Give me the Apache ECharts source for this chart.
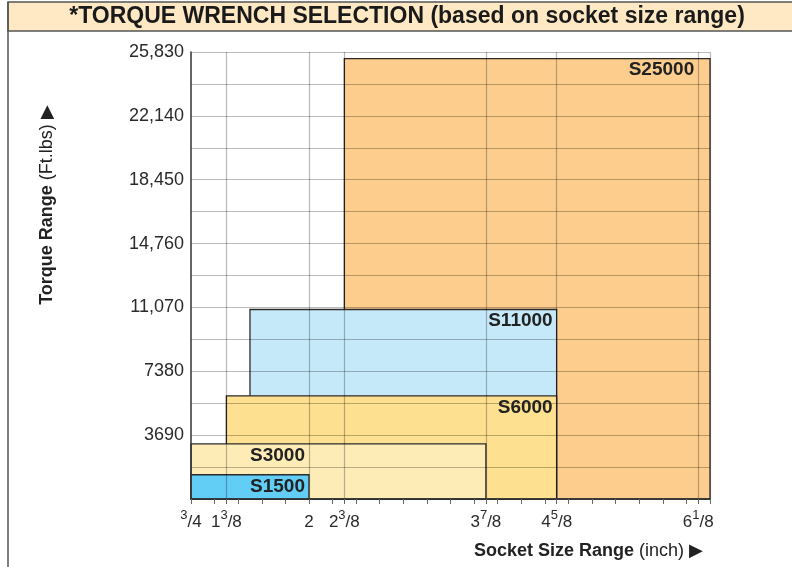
<!DOCTYPE html>
<html>
<head>
<meta charset="utf-8">
<title>Torque wrench selection</title>
<script src="https://cdn.jsdelivr.net/npm/echarts@6/dist/echarts.min.js"></script>
<style>
html, body { margin: 0; padding: 0; background: #fff; }
#chart { width: 792px; height: 567px; }
</style>
</head>
<body>
<div id="chart"></div>
<script>
// one box per wrench: socket range (inch) on x, torque (ft.lbs) from 0 up to the max on y
var models = ['S25000', 'S11000', 'S6000', 'S3000', 'S1500'];
var sizeFrom = [2.375, 1.375, 1.125, 0.75, 0.75];
var sizeTo = [6.25, 4.625, 4.625, 3.875, 2];
var torqueMax = [25450, 10950, 5960, 3180, 1400];
var labelAt = [6.125, 4.625, 4.625, 2, 2];

var yTicks = [3690, 7380, 11070, 14760, 18450, 22140, 25830];
var yTickLabels = ['3690', '7380', '11,070', '14,760', '18,450', '22,140', '25,830'];

// labelled socket sizes, written as whole + numerator/denominator
var xTicks = [0.75, 1.125, 2, 2.375, 3.875, 4.625, 6.125];
var xWhole = ['', '1', '2', '2', '3', '4', '6'];
var xNum = ['3', '3', '', '3', '7', '5', '1'];
var xDen = ['4', '8', '', '8', '8', '8', '8'];
var xSmallTicks = [0.75, 1, 1.125, 1.25, 1.5, 1.75, 2, 2.25, 2.375, 2.5, 2.75, 3, 3.25, 3.5,
  3.75, 3.875, 4, 4.25, 4.5, 4.625, 4.75, 5, 5.25, 5.5, 5.75, 6, 6.125, 6.25];
var xGridAt = [1.125, 2, 2.375, 3.875, 4.625, 6.125, 6.25];

var colors = ['#fdcd8e', '#c6e9f9', '#fee091', '#feecb6', '#62cdf5'];
var font = 'Liberation Sans, Arial, sans-serif';
var gridColor = 'rgba(0,0,0,0.27)';

var myChart = echarts.init(document.getElementById('chart'));

var boxes = models.map(function (m, i) { return [sizeFrom[i], sizeTo[i], torqueMax[i]]; });
var tags = models.map(function (m, i) { return [labelAt[i], torqueMax[i], m]; });

var option = {
  animation: false,
  backgroundColor: '#fff',
  grid: { left: 191, right: 82, top: 52, height: 447 },
  xAxis: [
    {
      type: 'value', min: 0.75, max: 6.25, position: 'bottom', z: 3,
      axisLine: { lineStyle: { color: '#333', width: 1.5 } },
      axisTick: { customValues: xSmallTicks, length: 5, lineStyle: { color: '#666' } },
      axisLabel: {
        customValues: xTicks, margin: 10, fontFamily: font,
        formatter: function (v) {
          var k = xTicks.indexOf(v);
          if (k < 0) return '';
          var s = xWhole[k] ? '{n|' + xWhole[k] + '}' : '';
          if (xNum[k]) s += '{s|' + xNum[k] + '}{n|/' + xDen[k] + '}';
          return s;
        },
        rich: {
          n: { fontSize: 17, color: '#2a2a2a', lineHeight: 22, verticalAlign: 'bottom', fontFamily: font },
          s: { fontSize: 13, color: '#2a2a2a', verticalAlign: 'top', fontFamily: font }
        }
      },
      splitLine: { show: false }
    },
    {
      type: 'value', min: 0.75, max: 6.25, position: 'top', z: 3,
      axisLine: { show: false },
      axisTick: { show: false, customValues: xGridAt },
      axisLabel: { show: false },
      splitLine: { show: true, lineStyle: { color: gridColor, width: 1.2 } }
    }
  ],
  yAxis: {
    type: 'value', min: 0, max: 25830, interval: 1845, z: 3,
    axisLine: { show: true, lineStyle: { color: '#333', width: 1.5 } },
    axisTick: { show: false },
    axisLabel: {
      fontSize: 18, color: '#2a2a2a', margin: 7, fontFamily: font,
      formatter: function (v) {
        var k = yTicks.indexOf(Math.round(v));
        return k < 0 ? '' : yTickLabels[k];
      }
    },
    splitLine: { lineStyle: { color: gridColor, width: 1.2 } }
  },
  series: [
    {
      type: 'custom', z: 2,
      encode: { x: [0, 1], y: 2 },
      data: boxes,
      renderItem: function (params, api) {
        var a = api.coord([api.value(0), api.value(2)]);
        var b = api.coord([api.value(1), 0]);
        return {
          type: 'rect',
          shape: { x: a[0], y: a[1], width: b[0] - a[0], height: b[1] - a[1] },
          style: { fill: colors[params.dataIndex], stroke: '#2b2b2b', lineWidth: 1.3 }
        };
      }
    },
    {
      type: 'custom', z: 5,
      encode: { x: 0, y: 1 },
      data: tags,
      renderItem: function (params, api) {
        var p = api.coord([api.value(0), api.value(1)]);
        return {
          type: 'text',
          x: p[0] - 4, y: p[1] + 2,
          style: {
            text: tags[params.dataIndex][2], align: 'right', verticalAlign: 'top',
            fontSize: 19, fontWeight: 'bold', fill: '#222', fontFamily: font
          }
        };
      }
    }
  ],
  graphic: [
    { type: 'rect', shape: { x: 8, y: 2, width: 800, height: 29 },
      style: { fill: '#fee9c4', stroke: '#555', lineWidth: 1.5 }, z: 10 },
    { type: 'line', shape: { x1: 8, y1: 2, x2: 8, y2: 570 },
      style: { stroke: '#555', lineWidth: 1.5 }, z: 10 },
    { type: 'text', x: 407, y: 17, z: 11,
      style: { text: '*TORQUE WRENCH SELECTION (based on socket size range)', align: 'center',
        verticalAlign: 'middle', fontSize: 23, fontWeight: 'bold', fill: '#1a1a1a', fontFamily: font } },
    { type: 'text', x: 47, y: 205, rotation: Math.PI / 2, z: 11,
      style: { text: '{b|Torque Range}{r| (Ft.lbs) \u25B6}', align: 'center', verticalAlign: 'middle',
        rich: { b: { fontSize: 18, fontWeight: 'bold', fill: '#222', fontFamily: font },
                r: { fontSize: 18, fill: '#222', fontFamily: font } } } },
    { type: 'text', x: 703, y: 551, z: 11,
      style: { text: '{b|Socket Size Range}{r| (inch) \u25B6}', align: 'right', verticalAlign: 'middle',
        rich: { b: { fontSize: 18, fontWeight: 'bold', fill: '#222', fontFamily: font },
                r: { fontSize: 18, fill: '#222', fontFamily: font } } } }
  ]
};

myChart.setOption(option);
</script>
</body>
</html>
